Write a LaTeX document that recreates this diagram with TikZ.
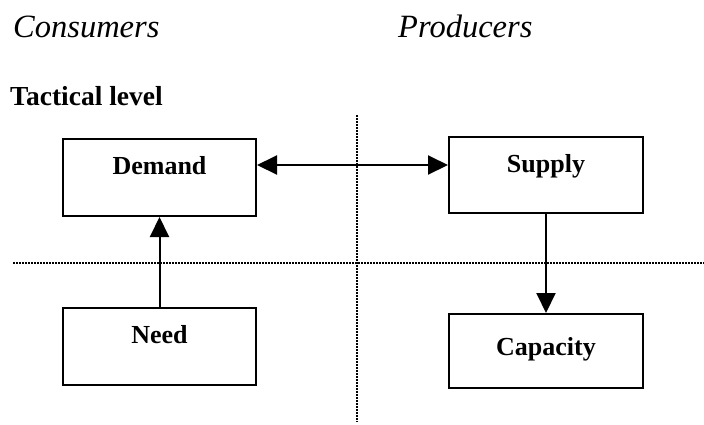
\documentclass[tikz,border=0pt]{standalone}
\usepackage{fontspec}
\setmainfont{Liberation Serif}
\usetikzlibrary{arrows.meta,calc}
\tikzset{
  block/.style={draw, line width=2pt, minimum width=193pt, inner xsep=0pt, inner ysep=0pt,
    font=\fontsize{26}{30}\selectfont\bfseries, text height=35pt, text depth=42pt},
  link/.style={line width=2pt, ->},
  divider/.style={line width=1.8pt, dash pattern=on 1.5pt off 1.5pt},
  heading/.style={anchor=base west, inner sep=0pt, font=\fontsize{32.5}{36}\selectfont\itshape},
}

\begin{document}
\begin{tikzpicture}[x=1pt,y=-1pt,>={Triangle[length=20pt,width=19pt]}]
  \useasboundingbox (0,0) rectangle (704,424);
  % headings
  \node[heading] (consumers) at (13,37) {Consumers};
  \node[heading] (producers) at (398,37) {Producers};
  \node[heading, font=\fontsize{27.5}{32}\selectfont\bfseries] (tactical) at (10,105) {Tactical level};
  % dividing lines
  \coordinate (vtop) at (357,115); \coordinate (vbot) at (357,422);
  \coordinate (hleft) at (13,263); \coordinate (hright) at (704,263);
  \draw[divider] (vtop) -- (vbot);
  \draw[divider] (hleft) -- (hright);
  % boxes
  \node[block] (demand) at (159.5,177.5) {Demand};
  \node[block, minimum width=194pt, text depth=41pt] (supply) at (546,175) {Supply};
  \node[block] (need) at (159.5,346.5) {Need};
  \node[block, minimum width=194pt, text height=41pt, text depth=33pt] (capacity) at (546,351) {Capacity};
  % connectors
  \draw[link, <->] ([yshift=12.5pt]demand.east) -- ([yshift=12.5pt]demand.east -| supply.west);
  \draw[link] (need) -- (demand);
  \draw[link] (supply) -- (capacity);
\end{tikzpicture}
\end{document}
